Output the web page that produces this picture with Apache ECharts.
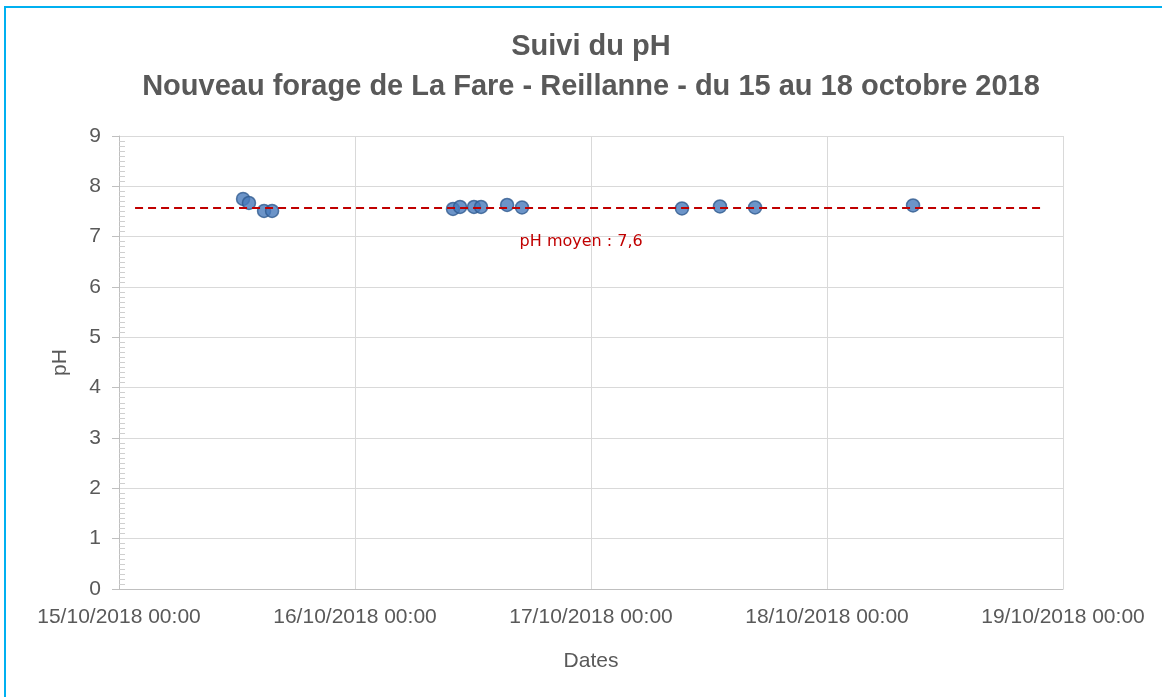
<!DOCTYPE html>
<html>
<head>
<meta charset="utf-8">
<title>Suivi du pH</title>
<script src="https://cdn.jsdelivr.net/npm/echarts@6/dist/echarts.min.js"></script>
<style>
  html, body { margin: 0; padding: 0; background: #fff; }
  #wrap { position: relative; width: 1162px; height: 697px; overflow: hidden; }
  #chart { width: 1162px; height: 697px; }
  /* cadre bleu du document (haut + gauche) */
  #frame {
    position: absolute; left: 4px; top: 6px; right: -4px; bottom: -4px;
    border-left: 2px solid #00B0F0; border-top: 2px solid #00B0F0;
    pointer-events: none;
  }
</style>
</head>
<body>
<div id="wrap">
  <div id="chart"></div>
  <div id="frame"></div>
</div>
<script>
// mesures du pH (date / heure de prélèvement)
const sampleDates = [
  "2018-10-15 12:37", "2018-10-15 13:13", "2018-10-15 14:45", "2018-10-15 15:34",
  "2018-10-16 09:58", "2018-10-16 10:41", "2018-10-16 12:06", "2018-10-16 12:49",
  "2018-10-16 15:28", "2018-10-16 16:59",
  "2018-10-17 09:15", "2018-10-17 13:07", "2018-10-17 16:41",
  "2018-10-18 08:45",
];
const phValues = [
  7.75, 7.67, 7.51, 7.51,
  7.55, 7.59, 7.59, 7.59,
  7.63, 7.58,
  7.56, 7.60, 7.58,
  7.62,
];

// pH moyen (ligne pointillée)
const meanDates = ["2018-10-15 01:38", "2018-10-18 21:40"];
const meanValue = 7.57;
const meanLabel = "pH moyen : 7,6";
const meanLabelDate = "2018-10-16 23:00";

const xMin = "2018-10-15T00:00:00";
const xMax = "2018-10-19T00:00:00";
const DAY = 24 * 3600 * 1000;

const pad = (n) => String(n).padStart(2, "0");
const fmtDate = (v) => {
  const d = new Date(v);
  return pad(d.getDate()) + "/" + pad(d.getMonth() + 1) + "/" + d.getFullYear() +
    " " + pad(d.getHours()) + ":" + pad(d.getMinutes());
};

const textColor = "#595959";
const font = "Liberation Sans";

const chart = echarts.init(document.getElementById("chart"), null, { renderer: "canvas" });

chart.setOption({
  animation: false,
  backgroundColor: "#fff",
  title: [
    {
      text: "Suivi du pH",
      left: 591, top: 32, textAlign: "center", padding: 0,
      textStyle: { fontFamily: font, fontWeight: "bold", fontSize: 29, color: textColor },
    },
    {
      text: "Nouveau forage de La Fare - Reillanne - du 15 au 18 octobre 2018",
      left: 591, top: 72, textAlign: "center", padding: 0,
      textStyle: { fontFamily: font, fontWeight: "bold", fontSize: 29, color: textColor },
    },
  ],
  grid: { left: 119, right: 99, top: 136, bottom: 108, containLabel: false },
  xAxis: {
    type: "time",
    min: +new Date(xMin),
    max: +new Date(xMax),
    splitNumber: 4,
    minInterval: DAY,
    maxInterval: DAY,
    name: "Dates",
    nameLocation: "middle",
    nameGap: 62,
    nameTextStyle: { fontFamily: font, fontSize: 21, color: textColor },
    axisLine: { show: true, lineStyle: { color: "#BFBFBF", width: 1 } },
    axisTick: { show: false },
    axisLabel: {
      formatter: fmtDate,
      showMinLabel: true, showMaxLabel: true,
      hideOverlap: false,
      margin: 18,
      fontFamily: font, fontSize: 21, color: textColor,
    },
    splitLine: { show: true, lineStyle: { color: "#D9D9D9", width: 1 } },
  },
  yAxis: [
    {
      type: "value",
      min: 0, max: 9, interval: 1,
      name: "pH",
      nameLocation: "middle",
      nameGap: 48,
      nameTextStyle: { fontFamily: font, fontSize: 21, color: textColor },
      axisLine: { show: true, lineStyle: { color: "#BFBFBF", width: 1 } },
      axisTick: { show: true, length: 7, lineStyle: { color: "#BFBFBF" } },
      axisLabel: { margin: 18, fontFamily: font, fontSize: 21, color: textColor },
      splitLine: { show: true, lineStyle: { color: "#D9D9D9", width: 1 } },
    },
    {
      // graduations secondaires (vers l'intérieur), même échelle
      type: "value",
      position: "left",
      min: 0, max: 9, interval: 1,
      axisLine: { show: false },
      axisTick: { show: false, inside: true },
      minorTick: { show: true, splitNumber: 10, length: 6, lineStyle: { color: "#CFCFCF" } },
      axisLabel: { show: false },
      splitLine: { show: false },
    },
  ],
  series: [
    {
      name: "pH",
      type: "scatter",
      data: sampleDates.map((d, i) => [d, phValues[i]]),
      symbol: "circle",
      symbolSize: 13,
      itemStyle: { color: "#4779BA", borderColor: "#2F5A8E", borderWidth: 1.5 },
      z: 2,
    },
    {
      name: "pH moyen",
      type: "line",
      data: meanDates.map((d) => [d, meanValue]),
      symbol: "none",
      lineStyle: { color: "#C00000", width: 2, type: [8, 5] },
      z: 3,
      markPoint: {
        symbol: "circle",
        symbolSize: 0,
        data: [{ coord: [meanLabelDate, meanValue] }],
        label: {
          show: true,
          position: "inside",
          offset: [0, 34],
          formatter: meanLabel,
          fontFamily: "DejaVu Sans",
          fontSize: 16,
          color: "#C00000",
        },
      },
    },
  ],
});
</script>
</body>
</html>
